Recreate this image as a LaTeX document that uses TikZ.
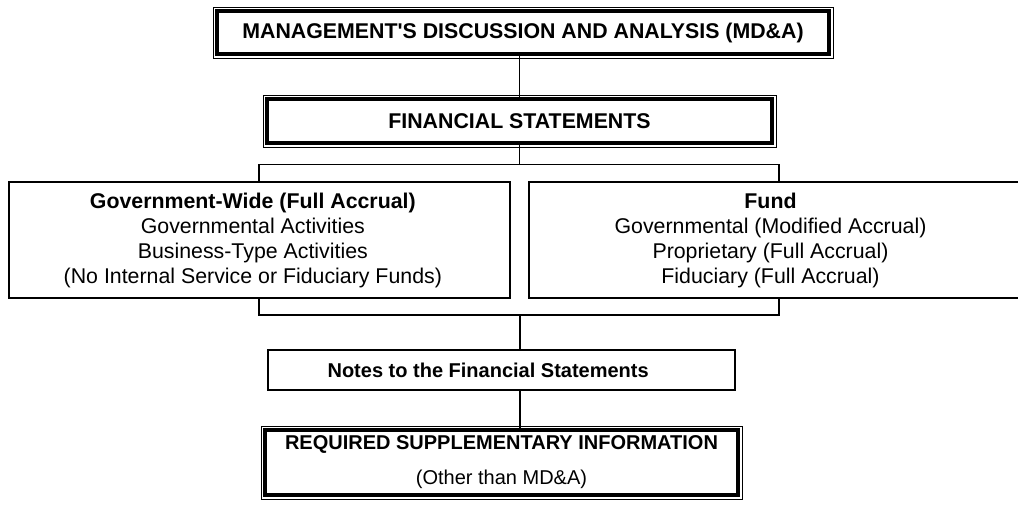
\documentclass[tikz,border=0pt]{standalone}
\usepackage{fontspec}
\setmainfont{Liberation Sans}[Ligatures=TeXOff]
\begin{document}
\begin{tikzpicture}[x=0.75pt,y=-0.75pt,
  every node/.style={font=\fontsize{16}{18.75}\selectfont, inner sep=0pt, outer sep=0pt, align=center},
  smalltext/.style={font=\fontsize{15}{18.75}\selectfont},
  thickbox/.style={draw, line width=3pt},
  thinframe/.style={line width=0.75pt},
  plainbox/.style={draw, line width=0.8pt},
  conn/.style={line width=0.8pt}]
\fill[white] (0,0) rectangle (1018,504);
\useasboundingbox (0,0) rectangle (1018,504);

% top box
\node[thickbox, minimum width=612*0.75pt, minimum height=43*0.75pt] (mda) at (523,32.5)
  {\textbf{MANAGEMENT'S DISCUSSION AND ANALYSIS (MD\&A)}};
\draw[thinframe] ([shift={(-3pt,3pt)}]mda.north west) rectangle ([shift={(3pt,-3pt)}]mda.south east);

% financial statements
\node[thickbox, minimum width=505*0.75pt, minimum height=44*0.75pt] (fs) at (519.5,121)
  {\textbf{FINANCIAL STATEMENTS}};
\draw[thinframe] ([shift={(-3pt,3pt)}]fs.north west) rectangle ([shift={(3pt,-3pt)}]fs.south east);

% government-wide
\node[plainbox, minimum width=501*0.75pt, minimum height=116*0.75pt] (gw) at (259.5,240)
  {\hspace*{-10pt}\textbf{Government-Wide (Full Accrual)}\\\hspace*{-10pt}Governmental Activities\\\hspace*{-10pt}Business-Type Activities\\\hspace*{-10pt}(No Internal Service or Fiduciary Funds)};

% fund
\node[plainbox, minimum width=491*0.75pt, minimum height=116*0.75pt] (fund) at (774.5,240)
  {\hspace*{-6pt}\textbf{Fund}\\\hspace*{-6pt}Governmental (Modified Accrual)\\\hspace*{-6pt}Proprietary (Full Accrual)\\\hspace*{-6pt}Fiduciary (Full Accrual)};

% notes
\node[plainbox, smalltext, minimum width=467*0.75pt, minimum height=40*0.75pt] (notes) at (501.5,370)
  {\hspace*{-20pt}\textbf{Notes to the Financial Statements}};

% RSI
\node[thickbox, smalltext, minimum width=473*0.75pt, minimum height=65*0.75pt] (rsi) at (501.5,462.5)
  {\textbf{REQUIRED SUPPLEMENTARY INFORMATION}\\[7.5pt](Other than MD\&A)};
\draw[thinframe] ([shift={(-3pt,3pt)}]rsi.north west) rectangle ([shift={(3pt,-3pt)}]rsi.south east);

% connectors
\coordinate (upj) at (519.5,164.5);
\coordinate (upl) at (259,164.5);
\coordinate (upr) at (779,164.5);
\coordinate (lowl) at (259,315);
\coordinate (lowr) at (779,315);
\coordinate (lowj) at (520,315);

\draw[conn] (fs.north |- mda.south) -- (fs.north);
\draw[conn] (fs.south) -- (upj);
\draw[conn] (gw.north -| upl) -- (upl) -- (upr) -- (fund.north -| upr);
\draw[conn] (gw.south -| lowl) -- (lowl) -- (lowr) -- (fund.south -| lowr);
\draw[conn] (lowj) -- (notes.north -| lowj);
\draw[conn] (notes.south -| lowj) -- (rsi.north -| lowj);
\end{tikzpicture}
\end{document}
